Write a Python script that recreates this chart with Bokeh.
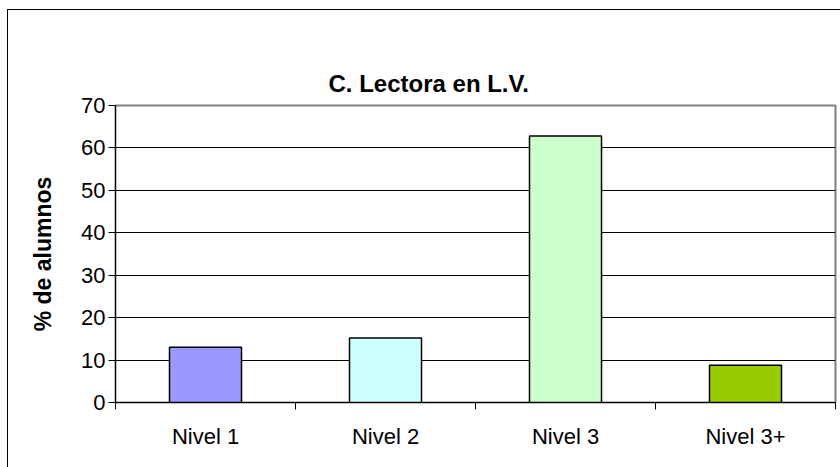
from bokeh.plotting import figure
from bokeh.models import (Range1d, FixedTicker, CustomJSTickFormatter, ColumnDataSource, LinearAxis)
from bokeh.embed import file_html
from bokeh.resources import INLINE

# ---- data ----
categories = ["Nivel 1", "Nivel 2", "Nivel 3", "Nivel 3+"]
values = [13.0, 15.2, 62.8, 8.8]
colors = ["#9999FF", "#CCFFFF", "#CCFFCC", "#99CC00"]
y_ticks = [0, 10, 20, 30, 40, 50, 60, 70]
title_text = "C. Lectora en L.V."
y_label = "% de alumnos"

xpos = [i + 0.5 for i in range(len(categories))]
src = ColumnDataSource(dict(x=xpos, top=values, color=colors, cat=categories))

p = figure(width=840, height=467, output_backend="svg", toolbar_location=None,
           x_range=Range1d(0, len(categories)), y_range=Range1d(0, 70),
           min_border_left=115, min_border_right=5, min_border_top=105, min_border_bottom=65,
           title=title_text)
p.styles = {
    "background": "linear-gradient(black, black) 7px 9px / 1px 100% no-repeat, "
                  "linear-gradient(black, black) 7px 9px / 100% 1px no-repeat, white"
}
p.background_fill_color = "white"
p.border_fill_color = None
p.outline_line_color = "#808080"
p.outline_line_width = 2

xa = p.below[0]
ya = p.left[0]

# invisible spacer axis between the frame and the title
spacer = LinearAxis(ticker=FixedTicker(ticks=[0.5], minor_ticks=[0, 1]),
                    formatter=CustomJSTickFormatter(code="return '.'"),
                    major_tick_out=0, major_tick_in=0, minor_tick_out=7, minor_tick_in=0,
                    major_label_standoff=18,
                    major_label_text_font="Liberation Sans",
                    major_label_text_font_size="22px",
                    major_label_text_alpha=0,
                    axis_line_color=None, major_tick_line_color=None,
                    minor_tick_line_color=None)
p.add_layout(spacer, "above")

p.title.align = "left"
p.title.offset = 213
p.title.vertical_align = "top"
p.title.standoff = 0
p.title.text_font = "Liberation Sans"
p.title.text_font_size = "24px"
p.title.text_font_style = "bold"
p.title.text_color = "black"

p.vbar(x="x", top="top", width=0.4, bottom=0, fill_color="color",
       line_color="black", line_width=1.5, source=src)

# x axis
xa.ticker = FixedTicker(ticks=xpos, minor_ticks=list(range(len(categories) + 1)))
xa.formatter = CustomJSTickFormatter(args=dict(labels=categories),
                                     code="return labels[Math.floor(tick)]")
xa.major_tick_out = 0
xa.major_tick_in = 0
xa.minor_tick_out = 7
xa.minor_tick_in = 0
xa.minor_tick_line_color = "black"
xa.axis_line_color = "black"
xa.axis_line_width = 1
xa.major_label_text_font = "Liberation Sans"
xa.major_label_text_font_size = "22px"
xa.major_label_text_color = "black"
xa.major_label_standoff = 14

# y axis
ya.ticker = FixedTicker(ticks=y_ticks, minor_ticks=[])
ya.major_tick_out = 7
ya.major_tick_in = 0
ya.major_tick_line_color = "black"
ya.axis_line_color = "black"
ya.major_label_text_font = "Liberation Sans"
ya.major_label_text_font_size = "22px"
ya.major_label_text_color = "black"
ya.major_label_standoff = 3
ya.axis_label = y_label
ya.axis_label_text_font = "Liberation Sans"
ya.axis_label_text_font_size = "23px"
ya.axis_label_text_font_style = "bold"
ya.axis_label_text_color = "black"
ya.axis_label_standoff = 22

p.xgrid[0].visible = False
p.ygrid[0].ticker = FixedTicker(ticks=y_ticks[1:-1])
p.ygrid[0].grid_line_color = "black"
p.ygrid[0].grid_line_width = 1

open("out.html", "w").write(file_html(p, INLINE))
